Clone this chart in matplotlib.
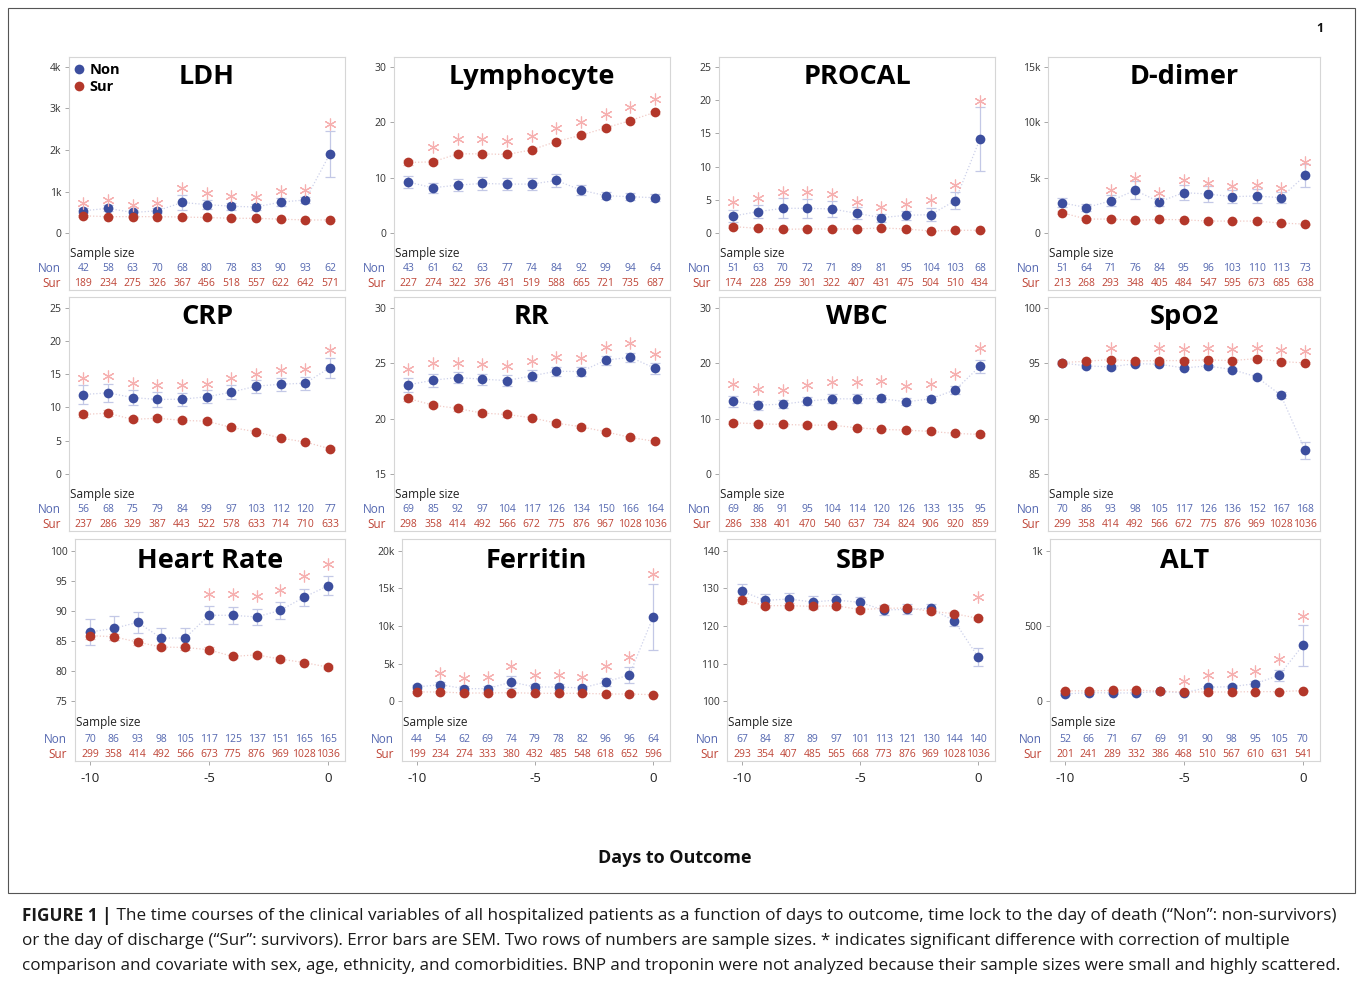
import matplotlib
matplotlib.use("Agg")
import matplotlib.pyplot as plt
import matplotlib.transforms as mtrans
from matplotlib.lines import Line2D
from matplotlib.patches import Rectangle
import numpy as np

plt.rcParams['font.family'] = ['Open Sans', 'DejaVu Sans']

W, H, DPI = 1358, 984, 100
nan = np.nan

days = [-10, -9, -8, -7, -6, -5, -4, -3, -2, -1, 0]
x_tick_values = [-10, -5, 0]

# ---------------- LDH ----------------
ldh_non = [540, 600, 500, 540, 740, 690, 650, 630, 750, 800, 1910]
ldh_non_se = [60, 70, 60, 60, 170, 100, 80, 70, 90, 80, 550]
ldh_sur = [420, 400, 400, 400, 390, 380, 360, 360, 340, 320, 320]
ldh_sur_se = [20, 20, 20, 20, 20, 20, 20, 15, 15, 15, 15]
ldh_star = [720, 800, 680, 720, 1080, 960, 900, 880, 1020, 1040, 2620]
ldh_n_non = [42, 58, 63, 70, 68, 80, 78, 83, 90, 93, 62]
ldh_n_sur = [189, 234, 275, 326, 367, 456, 518, 557, 622, 642, 571]
ldh_ticks = [0, 1000, 2000, 3000, 4000]

# ---------------- Lymphocyte ----------------
lym_non = [9.22, 8.20, 8.68, 8.98, 8.86, 8.86, 9.52, 7.78, 6.77, 6.59, 6.41]
lym_non_se = [1.1, 0.9, 1.1, 1.1, 1.1, 1.1, 1.2, 0.9, 0.6, 0.6, 0.6]
lym_sur = [12.75, 12.87, 14.31, 14.31, 14.19, 15.03, 16.53, 17.66, 18.98, 20.30, 21.80]
lym_sur_se = [0.4, 0.4, 0.4, 0.3, 0.3, 0.3, 0.3, 0.3, 0.3, 0.3, 0.3]
lym_star = [nan, 15.57, 16.95, 16.95, 16.65, 17.54, 18.98, 20.06, 21.44, 22.75, 24.13]
lym_n_non = [43, 61, 62, 63, 77, 74, 84, 92, 99, 94, 64]
lym_n_sur = [227, 274, 322, 376, 431, 519, 588, 665, 721, 735, 687]
lym_ticks = [0, 10, 20, 30]

# ---------------- PROCAL ----------------
pro_non = [2.6, 3.25, 3.75, 3.75, 3.65, 3.0, 2.35, 2.7, 2.8, 4.9, 14.15]
pro_non_se = [0.9, 1.0, 1.5, 1.4, 1.2, 0.9, 0.6, 0.7, 1.0, 1.3, 4.8]
pro_sur = [1.0, 0.75, 0.6, 0.65, 0.65, 0.65, 0.8, 0.65, 0.35, 0.45, 0.45]
pro_sur_se = [0.2, 0.1, 0.1, 0.1, 0.1, 0.1, 0.1, 0.1, 0.05, 0.05, 0.05]
pro_star = [4.75, 5.25, 6.25, 6.25, 5.85, 4.75, 3.95, 4.45, 4.95, 7.25, 19.9]
pro_n_non = [51, 63, 70, 72, 71, 89, 81, 95, 104, 103, 68]
pro_n_sur = [174, 228, 259, 301, 322, 407, 431, 475, 504, 510, 434]
pro_ticks = [0, 5, 10, 15, 20, 25]

# ---------------- D-dimer ----------------
dd_non = [2740, 2320, 2920, 3870, 2830, 3660, 3540, 3300, 3360, 3210, 5210]
dd_non_se = [400, 300, 500, 800, 350, 700, 700, 600, 600, 500, 1000]
dd_sur = [1850, 1280, 1280, 1160, 1250, 1220, 1100, 1100, 1100, 920, 830]
dd_sur_se = [150, 100, 100, 80, 80, 80, 70, 60, 60, 50, 50]
dd_star = [nan, nan, 3870, 4970, 3660, 4760, 4520, 4230, 4320, 4080, 6460]
dd_n_non = [51, 64, 71, 76, 84, 95, 96, 103, 110, 113, 73]
dd_n_sur = [213, 268, 293, 348, 405, 484, 547, 595, 673, 685, 638]
dd_ticks = [0, 5000, 10000, 15000]

# ---------------- CRP ----------------
crp_non = [11.95, 12.2, 11.5, 11.2, 11.25, 11.6, 12.3, 13.2, 13.5, 13.65, 16.0]
crp_non_se = [1.5, 1.4, 1.2, 1.1, 1.0, 1.0, 1.1, 1.0, 1.0, 1.0, 1.5]
crp_sur = [8.95, 9.15, 8.2, 8.4, 8.05, 7.95, 7.0, 6.35, 5.4, 4.8, 3.8]
crp_sur_se = [0.4, 0.4, 0.3, 0.3, 0.3, 0.3, 0.2, 0.2, 0.2, 0.2, 0.2]
crp_star = [14.45, 14.7, 13.75, 13.35, 13.45, 13.55, 14.45, 15.1, 15.6, 15.85, 18.6]
crp_n_non = [56, 68, 75, 79, 84, 99, 97, 103, 112, 120, 77]
crp_n_sur = [237, 286, 329, 387, 443, 522, 578, 633, 714, 710, 633]
crp_ticks = [0, 5, 10, 15, 20, 25]

# ---------------- RR ----------------
rr_non = [23.04, 23.46, 23.7, 23.55, 23.43, 23.85, 24.27, 24.24, 25.26, 25.53, 24.54]
rr_non_se = [0.6, 0.6, 0.5, 0.5, 0.5, 0.5, 0.4, 0.4, 0.4, 0.4, 0.5]
rr_sur = [21.81, 21.21, 20.91, 20.49, 20.37, 20.07, 19.59, 19.26, 18.81, 18.30, 17.94]
rr_sur_se = [0.2, 0.2, 0.2, 0.2, 0.2, 0.15, 0.15, 0.15, 0.15, 0.15, 0.15]
rr_star = [24.45, 25.02, 25.02, 24.9, 24.75, 25.23, 25.56, 25.47, 26.46, 26.82, 25.86]
rr_n_non = [69, 85, 92, 97, 104, 117, 126, 134, 150, 166, 164]
rr_n_sur = [298, 358, 414, 492, 566, 672, 775, 876, 967, 1028, 1036]
rr_ticks = [15, 20, 25, 30]

# ---------------- WBC ----------------
wbc_non = [13.14, 12.42, 12.6, 13.14, 13.56, 13.56, 13.62, 13.02, 13.56, 15.18, 19.44]
wbc_non_se = [1.0, 0.8, 0.7, 0.7, 0.8, 0.8, 0.7, 0.6, 0.6, 0.7, 1.2]
wbc_sur = [9.24, 9.06, 8.94, 8.82, 8.82, 8.34, 8.04, 7.92, 7.68, 7.32, 7.14]
wbc_sur_se = [0.3, 0.3, 0.3, 0.3, 0.3, 0.2, 0.2, 0.2, 0.2, 0.2, 0.2]
wbc_star = [16.32, 15.42, 15.24, 16.02, 16.62, 16.62, 16.74, 15.84, 16.32, 18.0, 22.8]
wbc_n_non = [69, 86, 91, 95, 104, 114, 120, 126, 133, 135, 95]
wbc_n_sur = [286, 338, 401, 470, 540, 637, 734, 824, 906, 920, 859]
wbc_ticks = [0, 10, 20, 30]

# ---------------- SpO2 ----------------
spo_non = [95.02, 94.75, 94.66, 94.96, 94.9, 94.57, 94.75, 94.42, 93.76, 92.11, 87.13]
spo_non_se = [0.15, 0.15, 0.15, 0.1, 0.1, 0.1, 0.1, 0.15, 0.2, 0.3, 0.8]
spo_sur = [95.05, 95.17, 95.32, 95.2, 95.23, 95.23, 95.29, 95.23, 95.41, 95.14, 95.02]
spo_sur_se = [0.1, 0.1, 0.1, 0.1, 0.1, 0.1, 0.1, 0.1, 0.1, 0.1, 0.1]
spo_star = [nan, nan, 96.37, nan, 96.37, 96.25, 96.37, 96.31, 96.40, 96.16, 96.07]
spo_n_non = [70, 86, 93, 98, 105, 117, 126, 136, 152, 167, 168]
spo_n_sur = [299, 358, 414, 492, 566, 672, 775, 876, 969, 1028, 1036]
spo_ticks = [85, 90, 95, 100]

# ---------------- Heart Rate ----------------
hr_non = [86.5, 87.1, 88.1, 85.5, 85.5, 89.28, 89.28, 89.0, 90.1, 92.28, 94.17]
hr_non_se = [2.2, 2.0, 1.7, 1.6, 1.6, 1.5, 1.4, 1.4, 1.4, 1.4, 1.6]
hr_sur = [85.9, 85.72, 84.83, 84.0, 83.94, 83.56, 82.44, 82.72, 82.0, 81.44, 80.67]
hr_sur_se = [0.6, 0.5, 0.5, 0.4, 0.4, 0.4, 0.3, 0.3, 0.3, 0.3, 0.3]
hr_star = [nan, nan, nan, nan, nan, 92.83, 92.83, 92.56, 93.5, 95.72, 97.78]
hr_n_non = [70, 86, 93, 98, 105, 117, 125, 137, 151, 165, 165]
hr_n_sur = [299, 358, 414, 492, 566, 673, 775, 876, 969, 1028, 1036]
hr_ticks = [75, 80, 85, 90, 95, 100]

# ---------------- Ferritin ----------------
fer_non = [1900, 2210, 1680, 1680, 2570, 1900, 1900, 1770, 2570, 3500, 11150]
fer_non_se = [300, 400, 300, 300, 800, 400, 400, 300, 500, 1100, 4400]
fer_sur = [1240, 1240, 1100, 1100, 1150, 1060, 1060, 1060, 970, 970, 880]
fer_sur_se = [100, 100, 100, 100, 100, 80, 80, 80, 80, 80, 80]
fer_star = [nan, 3760, 3100, 3190, 4650, 3540, 3450, 3230, 4730, 5840, 16900]
fer_n_non = [44, 54, 62, 69, 74, 79, 78, 82, 96, 96, 64]
fer_n_sur = [199, 234, 274, 333, 380, 432, 485, 548, 618, 652, 596]
fer_ticks = [0, 5000, 10000, 15000, 20000]

# ---------------- SBP ----------------
sbp_non = [129.2, 126.8, 127.17, 126.37, 126.9, 126.28, 124.25, 124.42, 124.69, 121.33, 111.77]
sbp_non_se = [2.0, 1.7, 1.6, 1.5, 1.5, 1.4, 1.3, 1.3, 1.2, 1.2, 2.3]
sbp_sur = [126.9, 125.4, 125.4, 125.22, 125.4, 124.34, 124.69, 124.78, 123.9, 123.27, 122.04]
sbp_sur_se = [0.8, 0.7, 0.6, 0.6, 0.5, 0.5, 0.5, 0.5, 0.4, 0.4, 0.4]
sbp_star = [nan, nan, nan, nan, nan, nan, nan, nan, nan, nan, 127.6]
sbp_n_non = [67, 84, 87, 89, 97, 101, 113, 121, 130, 144, 140]
sbp_n_sur = [293, 354, 407, 485, 565, 668, 773, 876, 969, 1028, 1036]
sbp_ticks = [100, 110, 120, 130, 140]

# ---------------- ALT ----------------
alt_non = [48.7, 57.5, 55.3, 55.3, 66.4, 55.3, 92.9, 97.3, 117, 172.6, 371.7]
alt_non_se = [8, 8, 8, 8, 8, 8, 12, 12, 15, 35, 135]
alt_sur = [70.8, 68.6, 73, 75.2, 66.4, 61.9, 61.9, 61.9, 64.2, 64.2, 70.8]
alt_sur_se = [5, 5, 5, 5, 5, 4, 4, 4, 4, 4, 4]
alt_star = [nan, nan, nan, nan, nan, 132.7, 177, 181.4, 203.5, 283.2, 564]
alt_n_non = [52, 66, 71, 67, 69, 91, 90, 98, 95, 105, 70]
alt_n_sur = [201, 241, 289, 332, 386, 468, 510, 567, 610, 631, 541]
alt_ticks = [0, 500, 1000]

titles = ["LDH", "Lymphocyte", "PROCAL", "D-dimer",
          "CRP", "RR", "WBC", "SpO2",
          "Heart Rate", "Ferritin", "SBP", "ALT"]

panels = [
    (ldh_non, ldh_non_se, ldh_sur, ldh_sur_se, ldh_star, ldh_n_non, ldh_n_sur, ldh_ticks),
    (lym_non, lym_non_se, lym_sur, lym_sur_se, lym_star, lym_n_non, lym_n_sur, lym_ticks),
    (pro_non, pro_non_se, pro_sur, pro_sur_se, pro_star, pro_n_non, pro_n_sur, pro_ticks),
    (dd_non, dd_non_se, dd_sur, dd_sur_se, dd_star, dd_n_non, dd_n_sur, dd_ticks),
    (crp_non, crp_non_se, crp_sur, crp_sur_se, crp_star, crp_n_non, crp_n_sur, crp_ticks),
    (rr_non, rr_non_se, rr_sur, rr_sur_se, rr_star, rr_n_non, rr_n_sur, rr_ticks),
    (wbc_non, wbc_non_se, wbc_sur, wbc_sur_se, wbc_star, wbc_n_non, wbc_n_sur, wbc_ticks),
    (spo_non, spo_non_se, spo_sur, spo_sur_se, spo_star, spo_n_non, spo_n_sur, spo_ticks),
    (hr_non, hr_non_se, hr_sur, hr_sur_se, hr_star, hr_n_non, hr_n_sur, hr_ticks),
    (fer_non, fer_non_se, fer_sur, fer_sur_se, fer_star, fer_n_non, fer_n_sur, fer_ticks),
    (sbp_non, sbp_non_se, sbp_sur, sbp_sur_se, sbp_star, sbp_n_non, sbp_n_sur, sbp_ticks),
    (alt_non, alt_non_se, alt_sur, alt_sur_se, alt_star, alt_n_non, alt_n_sur, alt_ticks),
]

# ---------------- styling ----------------
C_NON = "#3C4E9E"
C_SUR = "#B3372A"
C_NON_TXT = "#5467B0"
C_SUR_TXT = "#BE4436"
C_NON_ERR = "#C3C8E6"
C_SUR_ERR = "#EEC3BE"
C_NON_LINE = "#CDD1EA"
C_SUR_LINE = "#F1CAC5"
C_STAR = "#F6B0B0"
C_FRAME = "#D6D6D6"

col_lr = [[(69, 345), (394, 670), (719, 995), (1048, 1320)],
          [(69, 345), (394, 670), (719, 995), (1048, 1320)],
          [(75, 345), (402, 670), (727, 995), (1050, 1320)]]
row_geo = [(57, 290, 9.7, 56.7, 36.7, 21.7, 6.7, 19.7),
           (297, 531, 10.7, 57.0, 36.7, 21.7, 6.7, 19.7),
           (539, 761, 11.7, 59.7, 38.7, 21.3, 6.3, 21.7)]
row_xlim = [(-10.58, 0.61), (-10.58, 0.61), (-10.63, 0.72)]


def fmt_tick(v):
    if v >= 1000:
        return f"{v / 1000:g}k"
    return f"{v:g}"


fig = plt.figure(figsize=(W / DPI, H / DPI), dpi=DPI)
fig.patch.set_facecolor("white")

for i, (title, p) in enumerate(zip(titles, panels)):
    non, non_se, sur, sur_se, star, n_non, n_sur, ticks = p
    r, c = divmod(i, 4)
    lpx, rpx = col_lr[r][c]
    tpx, bpx, t_off, b_off, ss_px, nn_px, ns_px, ttl_px = row_geo[r]
    hpx = bpx - tpx
    ax = fig.add_axes([lpx / W, 1 - bpx / H, (rpx - lpx) / W, hpx / H])

    lo, hi = ticks[0], ticks[-1]
    s = (hi - lo) / (hpx - t_off - b_off)
    ax.set_ylim(lo - b_off * s, hi + t_off * s)
    ax.set_xlim(*row_xlim[r])
    ax.set_yticks(ticks)
    ax.set_yticklabels([fmt_tick(v) for v in ticks])
    ax.tick_params(axis="y", length=3, width=0.6, color="#9A9A9A",
                   labelsize=7.5, labelcolor="#333333", pad=2.5)
    if r == 2:
        ax.set_xticks(x_tick_values)
        ax.set_xticklabels([f"{v:g}" for v in x_tick_values])
        ax.tick_params(axis="x", length=3, width=0.6, color="#9A9A9A",
                       labelsize=9.5, labelcolor="#222222", pad=5)
    else:
        ax.set_xticks([])
    for sp in ax.spines.values():
        sp.set_color(C_FRAME)
        sp.set_linewidth(0.8)

    ax.plot(days, non, linestyle=(0, (1, 1.6)), color=C_NON_LINE, lw=0.9, zorder=1)
    ax.plot(days, sur, linestyle=(0, (1, 1.6)), color=C_SUR_LINE, lw=0.9, zorder=1)
    ax.errorbar(days, non, yerr=non_se, fmt="none", ecolor=C_NON_ERR,
                elinewidth=0.9, capsize=3.5, capthick=0.9, zorder=2)
    ax.errorbar(days, sur, yerr=sur_se, fmt="none", ecolor=C_SUR_ERR,
                elinewidth=0.9, capsize=3.5, capthick=0.9, zorder=2)
    ax.plot(days, non, "o", color=C_NON, ms=7, mew=0, zorder=3)
    ax.plot(days, sur, "o", color=C_SUR, ms=7, mew=0, zorder=4)
    ax.plot(days, star, linestyle="none", marker=(6, 2, 0), color=C_STAR,
            ms=8.5, mew=0.85, zorder=5)

    ax.text(0.5, 1 - ttl_px / hpx, title, transform=ax.transAxes, ha="center",
            va="center", fontsize=19.5, fontweight="bold", color="black")

    ax.text(0.005, ss_px / hpx, "Sample size", transform=ax.transAxes,
            ha="left", va="center", fontsize=8.5, color="#222222")
    ax.annotate("Non", xy=(0, nn_px / hpx), xycoords="axes fraction",
                xytext=(-8, 0), textcoords="offset pixels", ha="right",
                va="center", fontsize=8.5, color=C_NON_TXT, annotation_clip=False)
    ax.annotate("Sur", xy=(0, ns_px / hpx), xycoords="axes fraction",
                xytext=(-8, 0), textcoords="offset pixels", ha="right",
                va="center", fontsize=8.5, color=C_SUR_TXT, annotation_clip=False)
    blend = mtrans.blended_transform_factory(ax.transData, ax.transAxes)
    for d, a, b in zip(days, n_non, n_sur):
        ax.text(d, nn_px / hpx, str(a), transform=blend, ha="center",
                va="center", fontsize=7.5, color=C_NON_TXT)
        ax.text(d, ns_px / hpx, str(b), transform=blend, ha="center",
                va="center", fontsize=7.5, color=C_SUR_TXT)

    if i == 0:
        handles = [Line2D([], [], marker="o", ls="none", color=C_NON, ms=7, mew=0),
                   Line2D([], [], marker="o", ls="none", color=C_SUR, ms=7, mew=0)]
        ax.legend(handles, ["Non", "Sur"], loc="upper left",
                  bbox_to_anchor=(-0.018, 1.012), frameon=False,
                  prop={"weight": "bold", "size": 10.5},
                  handlelength=0.9, handletextpad=0.25, labelspacing=0.22,
                  borderaxespad=0.2)

fig.text(675 / W, 1 - 858 / H, "Days to Outcome", ha="center", va="center",
         fontsize=13, fontweight="bold", color="#111111")
fig.text(1320 / W, 1 - 28 / H, "1", ha="center", va="center",
         fontsize=9, fontweight="bold", color="#111111")

fig.add_artist(Rectangle((8 / W, 1 - 893 / H), (1355 - 8) / W, (893 - 8) / H,
                         transform=fig.transFigure, fill=False,
                         edgecolor="#555555", lw=0.8))

# caption: each line is fitted to the width it spans in the reference
CAP_FONT = ["Open Sans", "DejaVu Sans"]
cap_bold = "FIGURE 1 |"
cap_lines = [
    " The time courses of the clinical variables of all hospitalized patients as a function of days to outcome, time lock to the day of death (\u201cNon\u201d: non-survivors)",
    "or the day of discharge (\u201cSur\u201d: survivors). Error bars are SEM. Two rows of numbers are sample sizes. * indicates significant difference with correction of multiple",
    "comparison and covariate with sex, age, ethnicity, and comorbidities. BNP and troponin were not analyzed because their sample sizes were small and highly scattered.",
]
cap_y = [916, 941, 966]
cap_right = [1341, 1296, 1340]
renderer = fig.canvas.get_renderer()

fs = 12.0
tb = fig.text(22 / W, 1 - cap_y[0] / H, cap_bold, ha="left", va="center",
              fontsize=fs, fontweight="bold", color="#1a1a1a", family=CAP_FONT)
t1 = fig.text(0, 1 - cap_y[0] / H, cap_lines[0], ha="left", va="center",
              fontsize=fs, color="#1a1a1a", family=CAP_FONT)
for _ in range(3):
    tb.set_fontsize(fs)
    t1.set_fontsize(fs)
    wb = tb.get_window_extent(renderer=renderer).width
    w1 = t1.get_window_extent(renderer=renderer).width
    fs = fs * (cap_right[0] - 22) / (wb + w1)
tb.set_fontsize(fs)
t1.set_fontsize(fs)
wb = tb.get_window_extent(renderer=renderer).width
t1.set_x((22 + wb) / W)
base_fs = fs

for line, yy, rr in zip(cap_lines[1:], cap_y[1:], cap_right[1:]):
    t = fig.text(22 / W, 1 - yy / H, line, ha="left", va="center",
                 fontsize=base_fs, color="#1a1a1a", family=CAP_FONT)
    f = base_fs
    for _ in range(3):
        t.set_fontsize(f)
        w = t.get_window_extent(renderer=renderer).width
        f = f * (rr - 22) / w
    t.set_fontsize(f)

fig.savefig("out.png", dpi=DPI, facecolor="white")
